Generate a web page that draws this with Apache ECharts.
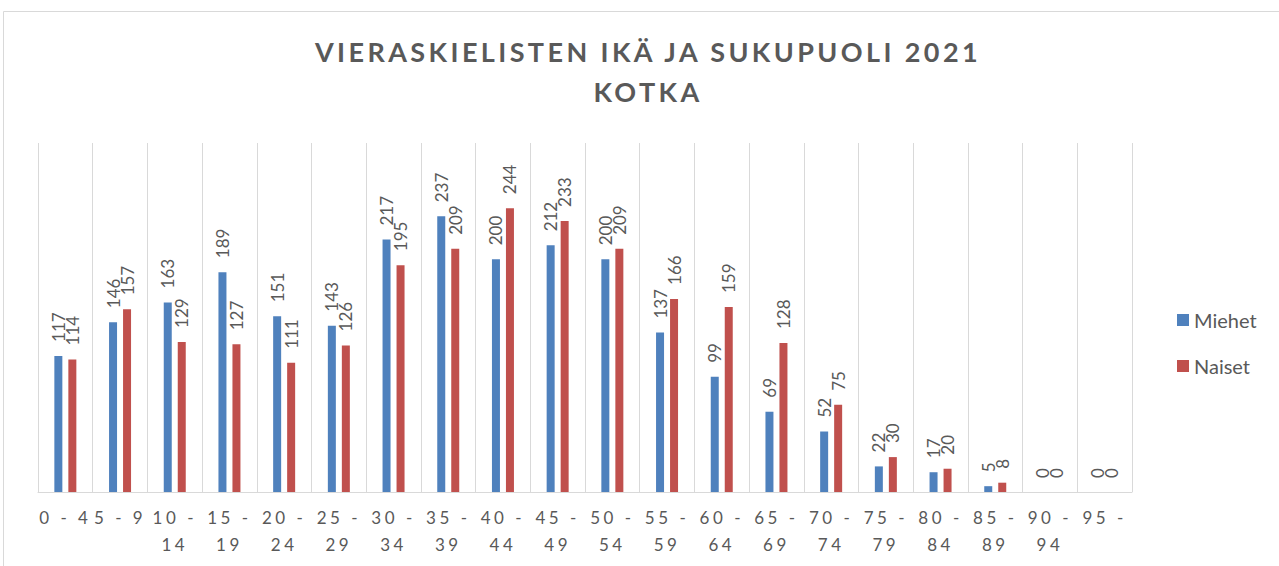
<!DOCTYPE html>
<html><head><meta charset="utf-8">
<script src="https://cdn.jsdelivr.net/npm/echarts@6/dist/echarts.min.js"></script>
<style>
html,body{margin:0;padding:0;background:#fff}
#c{width:1279px;height:566px}
#c text[style*="27px"]{letter-spacing:3.4px}
#c text[style*="serif"]{letter-spacing:3.5px}
</style>
</head><body><div id="c"></div>
<script>
const categories = ["0 - 4","5 - 9","10 - 14","15 - 19","20 - 24","25 - 29","30 - 34","35 - 39","40 - 44","45 - 49","50 - 54","55 - 59","60 - 64","65 - 69","70 - 74","75 - 79","80 - 84","85 - 89","90 - 94","95 -"];
const miehet = [117,146,163,189,151,143,217,237,200,212,200,137,99,69,52,22,17,5,0,0];
const naiset = [114,157,129,127,111,126,195,209,244,233,209,166,159,128,75,30,20,8,0,0];
const titleText = "VIERASKIELISTEN IKÄ JA SUKUPUOLI 2021\nKOTKA";

const chart = echarts.init(document.getElementById('c'), null, {renderer:'svg'});
const lbl = {show:true, position:'top', rotate:90, align:'left', verticalAlign:'middle', distance:14, color:'#595959', fontSize:17, fontFamily:'Lato'};
chart.setOption({
  animation:false,
  graphic:[{type:'rect', shape:{x:3.5,y:11.5,width:1300,height:600}, style:{fill:'none', stroke:'#d9d9d9', lineWidth:1}, silent:true}],
  title:{text:titleText, left:648, textAlign:'center', top:26, padding:[5,0,5,0], textStyle:{fontFamily:'Lato', fontWeight:'bold', fontSize:27, color:'#595959', lineHeight:40}},
  legend:{orient:'vertical', left:1172, top:305, itemWidth:12, itemHeight:12, itemGap:26, icon:'rect',
    textStyle:{fontFamily:'Lato', fontSize:20, color:'#595959'}, data:['Miehet','Naiset']},
  grid:{left:38, right:147, top:143, bottom:74},
  xAxis:{type:'category', data:categories, boundaryGap:true,
    axisLine:{lineStyle:{color:'#d9d9d9', width:1}}, axisTick:{show:false},
    splitLine:{show:true, lineStyle:{color:'#d9d9d9', width:1}},
    axisLabel:{interval:0, color:'#595959', fontSize:17, fontFamily:'Lato, sans-serif', margin:12, lineHeight:27,
      formatter:v => v.length > 5 ? v.replace(' - ', ' -\n') : v}},
  yAxis:{type:'value', min:0, max:300, show:false, splitLine:{show:false}},
  series:[
    {name:'Miehet', type:'bar', data:miehet, barWidth:8, barGap:'75%', itemStyle:{color:'#4f81bd'}, label:lbl},
    {name:'Naiset', type:'bar', data:naiset, barWidth:8, itemStyle:{color:'#c0504d'}, label:lbl}
  ]
});
</script></body></html>
